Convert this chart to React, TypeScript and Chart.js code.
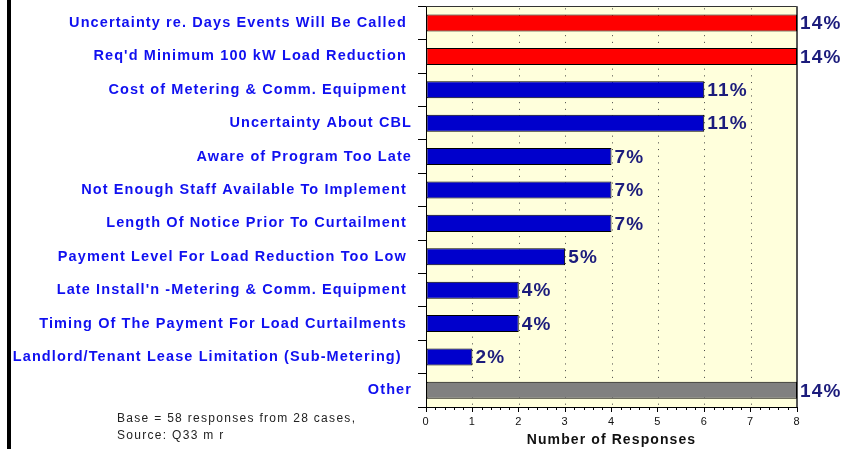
import React, { useEffect, useRef } from "react";
import { Chart, registerables } from "chart.js";

Chart.register(...registerables);

const categories = [
  "Uncertainty re. Days Events Will Be Called ",
  "Req'd Minimum 100 kW Load Reduction ",
  "Cost of Metering & Comm. Equipment ",
  "Uncertainty About CBL",
  "Aware of Program Too Late",
  "Not Enough Staff Available To Implement ",
  "Length Of Notice Prior To Curtailment ",
  "Payment Level For Load Reduction Too Low ",
  "Late Install'n -Metering & Comm. Equipment ",
  "Timing Of The Payment For Load Curtailments ",
  "Landlord/Tenant Lease Limitation (Sub-Metering)  ",
  "Other",
];
const responses = [8, 8, 6, 6, 4, 4, 4, 3, 2, 2, 1, 8];
const percentLabels = ["14%", "14%", "11%", "11%", "7%", "7%", "7%", "5%", "4%", "4%", "2%", "14%"];
const barColors = [
  "#FF0000", "#FF0000",
  "#0000CC", "#0000CC", "#0000CC", "#0000CC", "#0000CC", "#0000CC", "#0000CC", "#0000CC", "#0000CC",
  "#808080",
];
const xTitle = "Number of Responses";
const noteLines = ["Base = 58 responses from 28 cases,", "Source: Q33 m r"];

const FONT = 'Arial, "Liberation Sans", sans-serif';

const decorPlugin = {
  id: "decor",
  beforeDraw(chart: any) {
    const { ctx, chartArea } = chart;
    ctx.letterSpacing = "1.1px";
    ctx.save();
    ctx.fillStyle = "#FFFFDC";
    ctx.fillRect(chartArea.left, chartArea.top, chartArea.right - chartArea.left, chartArea.bottom - chartArea.top);
    ctx.restore();
  },
  beforeDatasetsDraw(chart: any) {
    const { ctx, chartArea, scales } = chart;
    const xs = scales.x;
    ctx.save();
    ctx.lineWidth = 1;
    ctx.strokeStyle = "#444";
    ctx.setLineDash([1, 5.7]);
    for (let v = 1; v <= 7; v++) {
      const px = Math.round(xs.getPixelForValue(v)) + 0.5;
      ctx.beginPath();
      ctx.moveTo(px, chartArea.top + 2);
      ctx.lineTo(px, chartArea.bottom);
      ctx.stroke();
    }
    ctx.setLineDash([]);
    // minor ticks
    ctx.strokeStyle = "#000";
    for (let i = 0; i <= 40; i++) {
      if (i % 5 === 0) continue;
      const px = Math.round(xs.getPixelForValue(i / 5)) + 0.5;
      ctx.beginPath();
      ctx.moveTo(px, chartArea.bottom);
      ctx.lineTo(px, chartArea.bottom + 3);
      ctx.stroke();
    }
    // top and right border
    ctx.strokeStyle = "#333";
    ctx.beginPath();
    ctx.moveTo(chartArea.left, Math.round(chartArea.top) + 0.5);
    ctx.lineTo(chartArea.right, Math.round(chartArea.top) + 0.5);
    ctx.stroke();
    ctx.lineWidth = 2;
    ctx.strokeStyle = "#555";
    ctx.beginPath();
    ctx.moveTo(Math.round(chartArea.right), chartArea.top);
    ctx.lineTo(Math.round(chartArea.right), chartArea.bottom);
    ctx.stroke();
    ctx.restore();
  },
  afterDatasetsDraw(chart: any) {
    const { ctx } = chart;
    const meta = chart.getDatasetMeta(0);
    ctx.save();
    ctx.letterSpacing = "1.2px";
    ctx.font = `bold 19px ${FONT}`;
    ctx.fillStyle = "#1C1C7C";
    ctx.textAlign = "left";
    ctx.textBaseline = "middle";
    meta.data.forEach((el: any, i: number) => {
      ctx.fillText(percentLabels[i], el.x + 3, el.y + 1);
    });
    ctx.restore();
  },
};

export default function App() {
  const ref = useRef<HTMLCanvasElement>(null);
  useEffect(() => {
    if (!ref.current) return;
    const chart = new Chart(ref.current, {
      type: "bar",
      data: {
        labels: categories,
        datasets: [
          {
            data: responses,
            backgroundColor: barColors,
            borderColor: "#000",
            borderWidth: 1,
            borderSkipped: false,
            barPercentage: 0.51,
            categoryPercentage: 1,
          },
        ],
      },
      options: {
        indexAxis: "y",
        responsive: false,
        animation: false,
        layout: { padding: { left: 0, right: 46, top: 6, bottom: 0 } },
        plugins: { legend: { display: false }, tooltip: { enabled: false } },
        scales: {
          y: {
            grid: { offset: true, drawOnChartArea: false, drawTicks: true, tickLength: 8, color: "#000", tickColor: "#000" },
            border: { display: true, color: "#000", width: 1 },
            ticks: {
              font: { family: FONT, size: 14.5, weight: "bold", lineHeight: 0.05 },
              color: "#1010F0",
              padding: 6,
              autoSkip: false,
            },
            afterFit(s: any) {
              s.width = 426;
            },
          },
          x: {
            min: 0,
            max: 8,
            ticks: { stepSize: 1, font: { family: FONT, size: 11 }, color: "#111", padding: 3 },
            grid: { drawOnChartArea: false, drawTicks: true, tickLength: 5, color: "#000", tickColor: "#000" },
            border: { display: true, color: "#000", width: 1 },
            title: {
              display: true,
              text: xTitle,
              font: { family: FONT, size: 14, weight: "bold" },
              color: "#111",
              padding: { top: 0, bottom: 0 },
            },
            afterFit(s: any) {
              s.height = 42;
            },
          },
        },
      } as any,
      plugins: [decorPlugin],
    });
    return () => chart.destroy();
  }, []);

  return (
    <div style={{ position: "absolute", left: 0, top: 0, width: 843, height: 449, background: "#fff", overflow: "hidden" }}>
      <canvas ref={ref} width={843} height={449} style={{ position: "absolute", left: 0, top: 0, width: 843, height: 449 }} />
      <div style={{ position: "absolute", left: 7, top: 0, width: 4, height: 449, background: "#000" }} />
      <div
        style={{
          position: "absolute",
          left: 117,
          top: 410,
          fontFamily: FONT,
          fontSize: 12,
          letterSpacing: "1.3px",
          lineHeight: "17px",
          color: "#222",
          whiteSpace: "pre",
        }}
      >
        {noteLines.map((t, i) => (
          <div key={i}>{t}</div>
        ))}
      </div>
    </div>
  );
}
